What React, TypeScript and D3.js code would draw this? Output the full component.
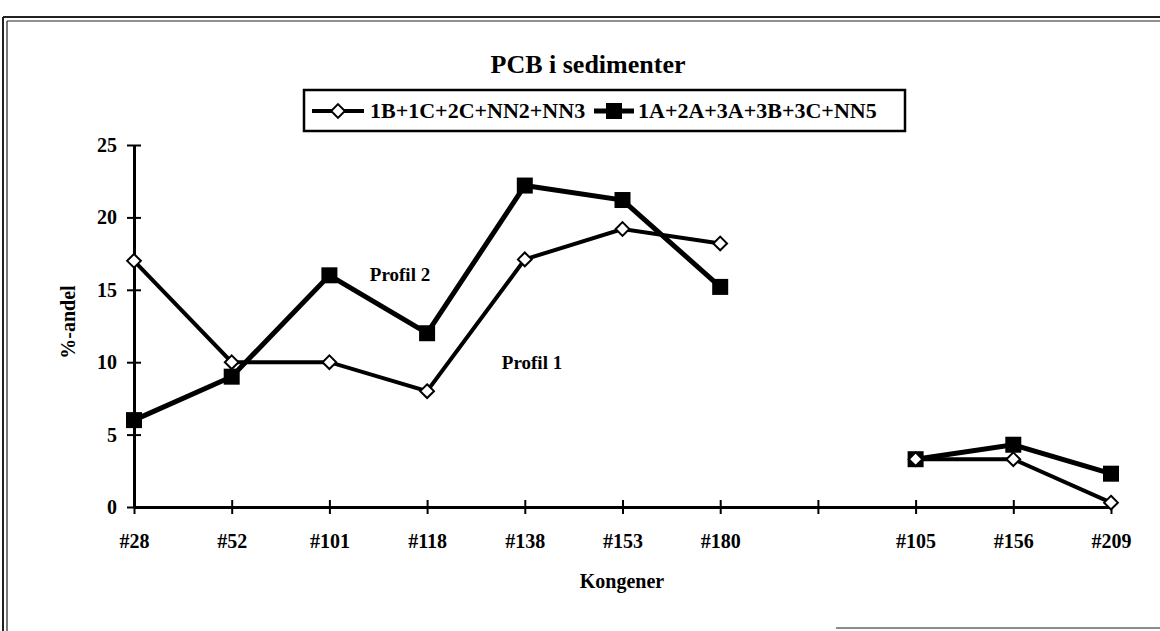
import React, { useRef, useEffect } from "react";
import * as d3 from "d3";

// Kongener along the x axis (one empty slot between #180 and #105)
const categories = ["#28", "#52", "#101", "#118", "#138", "#153", "#180", "", "#105", "#156", "#209"];
const profil1: (number | null)[] = [17, 10, 10, 8, 17.1, 19.2, 18.2, null, 3.3, 3.3, 0.3];
const profil2: (number | null)[] = [6, 9, 16, 12, 22.2, 21.2, 15.2, null, 3.3, 4.3, 2.3];
const yTicks = [0, 5, 10, 15, 20, 25];
const seriesNames = ["1B+1C+2C+NN2+NN3", "1A+2A+3A+3B+3C+NN5"];

const FONT = "'Liberation Serif', 'Times New Roman', serif";

const App = () => {
  const svgRef = useRef<SVGSVGElement>(null);

  useEffect(() => {
    const svg = d3.select(svgRef.current);
    svg.selectAll("*").remove();

    const width = 1160;
    const height = 631;

    const x = d3.scalePoint<number>().domain(d3.range(categories.length)).range([134, 1111]);
    const y = d3.scaleLinear().domain([0, 25]).range([507, 145]);

    svg.attr("width", width).attr("height", height).style("font-family", FONT);
    svg.append("rect").attr("width", width).attr("height", height).attr("fill", "#fff");

    // scanned page frame
    const frame = svg.append("g").attr("stroke", "#222").attr("fill", "none");
    frame.append("line").attr("x1", 3).attr("x2", width).attr("y1", 17).attr("y2", 17).attr("stroke-width", 2);
    frame.append("line").attr("x1", 7).attr("x2", width).attr("y1", 21).attr("y2", 21).attr("stroke-width", 1.2);
    frame.append("line").attr("x1", 3).attr("x2", 3).attr("y1", 17).attr("y2", height).attr("stroke-width", 2);
    frame.append("line").attr("x1", 7).attr("x2", 7).attr("y1", 21).attr("y2", height).attr("stroke-width", 1.2);
    frame.append("line").attr("x1", 836).attr("x2", width).attr("y1", 628).attr("y2", 628).attr("stroke-width", 1.5).attr("stroke", "#666");

    // title
    svg.append("text")
      .attr("x", 588).attr("y", 73)
      .attr("text-anchor", "middle")
      .attr("font-size", 26).attr("font-weight", "bold")
      .text("PCB i sedimenter");

    // y axis with crossing ticks
    const yAxis = svg.append("g")
      .attr("transform", `translate(${x(0)},0)`)
      .call(d3.axisLeft(y).tickValues(yTicks).tickSize(7).tickPadding(10).tickSizeOuter(0));
    yAxis.select(".domain").attr("stroke", "#000").attr("stroke-width", 3);
    yAxis.selectAll(".tick line").attr("x1", 7).attr("x2", -7).attr("stroke", "#000").attr("stroke-width", 2);
    yAxis.selectAll(".tick text")
      .attr("font-size", 20).attr("font-weight", "bold").attr("font-family", FONT).attr("fill", "#000");

    // x axis
    const xAxis = svg.append("g")
      .attr("transform", `translate(0,${y(0)})`)
      .call(d3.axisBottom(x).tickFormat((i) => categories[i as number]).tickSize(7).tickPadding(20).tickSizeOuter(0));
    xAxis.select(".domain").attr("stroke", "#000").attr("stroke-width", 3);
    xAxis.selectAll(".tick line").attr("y1", -7).attr("y2", 7).attr("stroke", "#000").attr("stroke-width", 2);
    xAxis.selectAll(".tick text")
      .attr("font-size", 20).attr("font-weight", "bold").attr("font-family", FONT).attr("fill", "#000");

    // axis titles
    svg.append("text")
      .attr("transform", "translate(75,322) rotate(-90)")
      .attr("text-anchor", "middle")
      .attr("font-size", 20).attr("font-weight", "bold")
      .text("%-andel");
    svg.append("text")
      .attr("x", 622).attr("y", 588)
      .attr("text-anchor", "middle")
      .attr("font-size", 20).attr("font-weight", "bold")
      .text("Kongener");

    const line = d3.line<number | null>()
      .defined((d) => d != null)
      .x((_, i) => x(i) as number)
      .y((d) => y(d as number));

    // profil 2 (filled squares)
    svg.append("path").datum(profil2)
      .attr("d", line).attr("fill", "none").attr("stroke", "#000").attr("stroke-width", 5);
    svg.append("g").selectAll("rect")
      .data(profil2.map((v, i) => ({ v, i })).filter((d) => d.v != null))
      .enter().append("rect")
      .attr("x", (d) => (x(d.i) as number) - 8)
      .attr("y", (d) => y(d.v as number) - 8)
      .attr("width", 16).attr("height", 16)
      .attr("fill", "#000");

    // profil 1 (open diamonds)
    svg.append("path").datum(profil1)
      .attr("d", line).attr("fill", "none").attr("stroke", "#000").attr("stroke-width", 4);
    const diamond = d3.symbol().type(d3.symbolDiamond2).size(120);
    svg.append("g").selectAll("path")
      .data(profil1.map((v, i) => ({ v, i })).filter((d) => d.v != null))
      .enter().append("path")
      .attr("d", diamond)
      .attr("transform", (d) => `translate(${x(d.i)},${y(d.v as number)})`)
      .attr("fill", "#fff").attr("stroke", "#000").attr("stroke-width", 2);

    // in-plot labels
    svg.append("text").attr("x", 400).attr("y", 281).attr("text-anchor", "middle")
      .attr("font-size", 19).attr("font-weight", "bold").text("Profil 2");
    svg.append("text").attr("x", 532).attr("y", 369).attr("text-anchor", "middle")
      .attr("font-size", 19).attr("font-weight", "bold").text("Profil 1");

    // legend
    const legend = svg.append("g");
    legend.append("rect")
      .attr("x", 304).attr("y", 90).attr("width", 601).attr("height", 41)
      .attr("fill", "#fff").attr("stroke", "#000").attr("stroke-width", 2.5);
    const ly = 111;
    legend.append("line").attr("x1", 312).attr("x2", 364).attr("y1", ly).attr("y2", ly)
      .attr("stroke", "#000").attr("stroke-width", 4);
    legend.append("path").attr("d", diamond).attr("transform", `translate(338,${ly})`)
      .attr("fill", "#fff").attr("stroke", "#000").attr("stroke-width", 2);
    legend.append("text").attr("x", 370).attr("y", ly + 7)
      .attr("font-size", 22).attr("font-weight", "bold").text(seriesNames[0]);
    legend.append("line").attr("x1", 594).attr("x2", 634).attr("y1", ly).attr("y2", ly)
      .attr("stroke", "#000").attr("stroke-width", 5);
    legend.append("rect").attr("x", 606).attr("y", ly - 8).attr("width", 16).attr("height", 16).attr("fill", "#000");
    legend.append("text").attr("x", 638).attr("y", ly + 7)
      .attr("font-size", 22).attr("font-weight", "bold").text(seriesNames[1]);
  }, []);

  return (
    <div style={{ position: "absolute", left: 0, top: 0 }}>
      <svg ref={svgRef}></svg>
    </div>
  );
};

export default App;
